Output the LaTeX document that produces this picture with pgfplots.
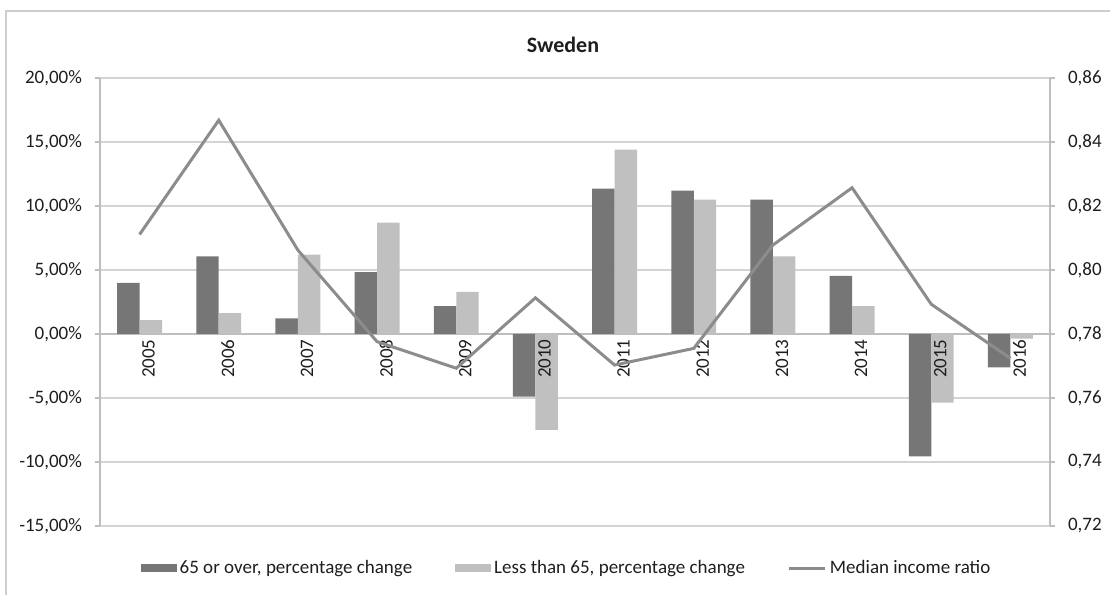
\documentclass[border=0pt]{standalone}
\usepackage{fontspec}
\setmainfont{Carlito}
\usepackage{pgfplots}
\pgfplotsset{compat=1.18}
\definecolor{darkbar}{RGB}{118,118,118}
\definecolor{lightbar}{RGB}{192,192,192}
\definecolor{linegray}{RGB}{140,140,140}
\definecolor{gridgray}{RGB}{212,212,212}
\definecolor{axisgray}{RGB}{190,190,190}
\definecolor{framegray}{RGB}{205,205,205}
\definecolor{labelcol}{RGB}{30,30,30}
\pgfplotsset{
  common/.style={
    at={(0,0)}, anchor=south west, scale only axis,
    width=475pt, height=224pt,
    xmin=-0.5, xmax=11.5,
    tick label style={text=labelcol, font=\fontsize{9.5}{11}\selectfont},
  },
}
\begin{document}
\begin{tikzpicture}[font=\fontsize{9.5}{11}\selectfont]
\path[use as bounding box] (-50pt,-34.5pt) rectangle (505pt,263pt);
\draw[framegray, line width=1pt] (-47pt,-40pt) -- (-47pt,257.5pt) -- (515pt,257.5pt);
% bars, grid, left axis
\begin{axis}[
  common,
  ymin=-15, ymax=20,
  axis x line*=middle, axis y line*=left,
  hide obscured x ticks=false, hide obscured y ticks=false,
  axis line style={axisgray, line width=1pt},
  ymajorgrids, grid style={gridgray, line width=1pt},
  ytick={-15,-10,-5,0,5,10,15,20},
  yticklabels={{-15,00\%},{-10,00\%},{-5,00\%},{0,00\%},{5,00\%},{10,00\%},{15,00\%},{20,00\%}},
  xtick=\empty,
  minor xtick={0.5,1.5,2.5,3.5,4.5,5.5,6.5,7.5,8.5,9.5,10.5},
  tick align=outside,
  major tick length=2.5pt, minor tick length=2pt,
  minor x tick style={axisgray, line width=1pt},
  major y tick style={axisgray, line width=1pt},
  yticklabel style={xshift=-3pt},
  ybar=0pt, bar width=0.284,
  legend columns=3,
  legend cell align=left,
  legend style={at={(0.4916,-0.09375)}, anchor=center, draw=none, fill=none,
    font=\fontsize{9.5}{11}\selectfont, text=labelcol,
    /tikz/every even column/.append style={column sep=20pt},
    nodes={inner sep=1.5pt}},
]
\addplot[fill=darkbar, draw=none,
  legend image code/.code={\fill[darkbar] (0pt,-2pt) rectangle (18pt,2pt);}]
  coordinates {(0,4.00) (1,6.06) (2,1.22) (3,4.84) (4,2.18) (5,-4.89) (6,11.36) (7,11.21) (8,10.50) (9,4.55) (10,-9.57) (11,-2.60)};
\addlegendentry{65 or over, percentage change}
\addplot[fill=lightbar, draw=none,
  legend image code/.code={\fill[lightbar] (0pt,-2pt) rectangle (18pt,2pt);}]
  coordinates {(0,1.09) (1,1.64) (2,6.21) (3,8.71) (4,3.30) (5,-7.49) (6,14.40) (7,10.50) (8,6.06) (9,2.18) (10,-5.36) (11,-0.36)};
\addlegendentry{Less than 65, percentage change}
\addlegendimage{legend image code/.code={\draw[linegray, line width=1.5pt] (0pt,0pt) -- (18pt,0pt);}}
\addlegendentry{Median income ratio}
\end{axis}
% category labels on top of the bars
\begin{axis}[
  common,
  ymin=-15, ymax=20,
  axis x line*=middle, axis y line=none,
  axis line style={draw=none},
  hide obscured x ticks=false,
  xtick={0,1,2,3,4,5,6,7,8,9,10,11},
  xticklabels={2005,2006,2007,2008,2009,2010,2011,2012,2013,2014,2015,2016},
  major x tick style={draw=none},
  tick align=outside, major tick length=2.5pt,
  xticklabel style={rotate=90, anchor=east, inner sep=0pt, yshift=-4.5pt},
]
\end{axis}
% median income ratio, right axis
\begin{axis}[
  common,
  ymin=0.72, ymax=0.86,
  axis x line=none, axis y line*=right,
  axis line style={axisgray, line width=1pt},
  ytick={0.72,0.74,0.76,0.78,0.80,0.82,0.84,0.86},
  yticklabels={{0,72},{0,74},{0,76},{0,78},{0,80},{0,82},{0,84},{0,86}},
  tick align=outside, major tick length=2.5pt,
  major y tick style={axisgray, line width=1pt},
  yticklabel style={xshift=3pt},
]
\addplot[linegray, line width=1.5pt, mark=none]
  coordinates {(0,0.8111) (1,0.8468) (2,0.8062) (3,0.7776) (4,0.7693) (5,0.7913) (6,0.7703) (7,0.7755) (8,0.8078) (9,0.8257) (10,0.7893) (11,0.7724)};
\end{axis}
\node[font=\bfseries\fontsize{11}{13}\selectfont, text=labelcol] at (231.5pt,240.5pt) {Sweden};
\end{tikzpicture}
\end{document}
